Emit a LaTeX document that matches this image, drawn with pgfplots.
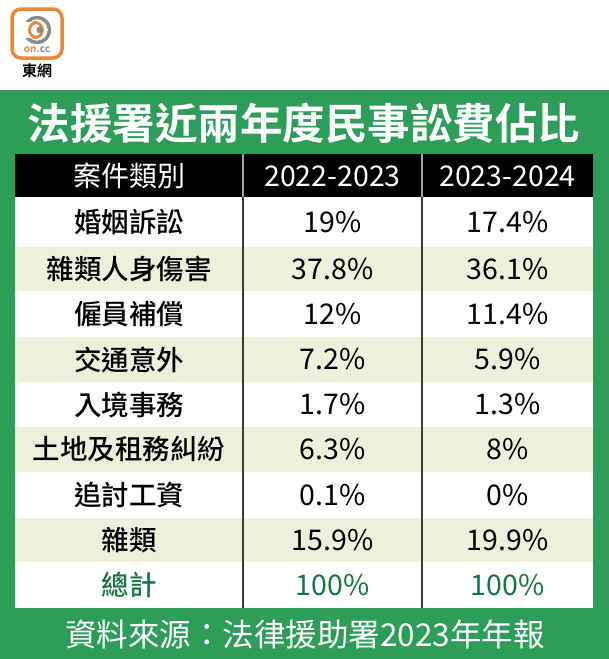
\documentclass[border=0pt]{standalone}
\usepackage{fontspec}
\setmainfont{Noto Sans CJK TC}[UprightFont=* Medium,BoldFont=* Bold]
\newfontfamily\regfont{Noto Sans CJK TC}
\usepackage{pgfplots}
\pgfplotsset{compat=1.18}
\usepackage{pgfplotstable}
\definecolor{bggreen}{HTML}{2E9D5A}
\definecolor{cream}{HTML}{EEF0DC}
\definecolor{totgreen}{HTML}{1A7447}
\definecolor{logoorange}{HTML}{E8883A}
\definecolor{sepgray}{HTML}{3A3A3A}
\definecolor{logogray}{HTML}{8C8C8C}

\pgfplotstableread{
y cat a b
222 婚姻訴訟 19 17.4
269 雜類人身傷害 37.8 36.1
314 僱員補償 12 11.4
359.5 交通意外 7.2 5.9
404.5 入境事務 1.7 1.3
449.5 土地及租務糾紛 6.3 8
495 追討工資 0.1 0
540 雜類 15.9 19.9
}\rows
\pgfplotstableread{
y cat a b
585 總計 100 100
}\total

\begin{document}
\begin{tikzpicture}
\begin{axis}[width=609pt,height=659pt,scale only axis,
  xmin=0,xmax=609,ymin=0,ymax=659,y dir=reverse,
  hide axis,clip=false,
  /pgf/number format/assume math mode=true,
  /pgf/number format/fixed,/pgf/number format/precision=1]
% backgrounds
\fill[white] (axis cs:0,0) rectangle (axis cs:609,659);
\fill[bggreen] (axis cs:0,90) rectangle (axis cs:609,659);
\fill[white] (axis cs:15,197) rectangle (axis cs:593,608);
\fill[cream] (axis cs:15,247) rectangle (axis cs:593,291);
\fill[cream] (axis cs:15,337) rectangle (axis cs:593,382);
\fill[cream] (axis cs:15,427) rectangle (axis cs:593,472);
\fill[cream] (axis cs:15,518) rectangle (axis cs:593,562);
\fill[black] (axis cs:15,154) rectangle (axis cs:593,197);
% separators
\draw[sepgray,line width=1.6pt] (axis cs:243,197) -- (axis cs:243,608);
\draw[sepgray,line width=1.6pt] (axis cs:422,197) -- (axis cs:422,608);
\draw[gray!75,line width=1.6pt] (axis cs:243,154) -- (axis cs:243,197);
\draw[gray!75,line width=1.6pt] (axis cs:422,154) -- (axis cs:422,197);
% logo
\draw[logoorange,line width=3.5pt,rounded corners=9pt,fill=white] (axis cs:12,9) rectangle (axis cs:62,58);
\draw[logogray,line width=3.5pt] (axis cs:37,30) circle[radius=12.5pt];
\draw[logoorange,line width=2.8pt] (axis cs:35,30) circle[radius=7.5pt];
\fill[white] (axis cs:22,22) rectangle (axis cs:33,38);
\draw[logoorange,line width=2.8pt] (axis cs:37,22.5) arc[start angle=90,end angle=270,radius=7.5pt];
\fill[logogray] (axis cs:40,30) circle[radius=3.5pt];
\node[font=\fontsize{10}{10}\selectfont\bfseries] at (axis cs:37,50) {\textcolor{logoorange}{on}\textcolor{logogray}{.cc}};
\node[font=\fontsize{15}{16}\selectfont\bfseries] at (axis cs:37,71) {東網};
% title
\node[white,font=\fontsize{42.5}{44}\selectfont\bfseries] at (axis cs:304,123) {法援署近兩年度民事訟費佔比};
% header
\node[white,font=\regfont\fontsize{28}{30}\selectfont] at (axis cs:129,176) {案件類別};
\node[white,font=\regfont\fontsize{28.5}{30}\selectfont] at (axis cs:332.5,176) {2022-2023};
\node[white,font=\regfont\fontsize{28.5}{30}\selectfont] at (axis cs:507.5,176) {2023-2024};
% body
\addplot[draw=none,mark=none,nodes near coords,point meta=explicit symbolic,
  every node near coord/.append style={anchor=center,text=black,font=\fontsize{27.5}{30}\selectfont}]
  table[x expr=129,y=y,meta=cat]{\rows};
\addplot[draw=none,mark=none,nodes near coords={\pgfmathprintnumber{\pgfplotspointmeta}\%},point meta=explicit,
  every node near coord/.append style={anchor=center,text=black,font=\regfont\fontsize{28.5}{30}\selectfont}]
  table[x expr=332.5,y=y,meta=a]{\rows};
\addplot[draw=none,mark=none,nodes near coords={\pgfmathprintnumber{\pgfplotspointmeta}\%},point meta=explicit,
  every node near coord/.append style={anchor=center,text=black,font=\regfont\fontsize{28.5}{30}\selectfont}]
  table[x expr=507.5,y=y,meta=b]{\rows};
% total
\addplot[draw=none,mark=none,nodes near coords,point meta=explicit symbolic,
  every node near coord/.append style={anchor=center,text=totgreen,font=\fontsize{27.5}{30}\selectfont}]
  table[x expr=129,y=y,meta=cat]{\total};
\addplot[draw=none,mark=none,nodes near coords={\pgfmathprintnumber{\pgfplotspointmeta}\%},point meta=explicit,
  every node near coord/.append style={anchor=center,text=totgreen,font=\regfont\fontsize{28.5}{30}\selectfont}]
  table[x expr=332.5,y=y,meta=a]{\total};
\addplot[draw=none,mark=none,nodes near coords={\pgfmathprintnumber{\pgfplotspointmeta}\%},point meta=explicit,
  every node near coord/.append style={anchor=center,text=totgreen,font=\regfont\fontsize{28.5}{30}\selectfont}]
  table[x expr=507.5,y=y,meta=b]{\total};
% footer
\node[white,font=\regfont\fontsize{31.5}{33}\selectfont] at (axis cs:305,635) {資料來源：法律援助署2023年年報};
\end{axis}
\end{tikzpicture}
\end{document}
